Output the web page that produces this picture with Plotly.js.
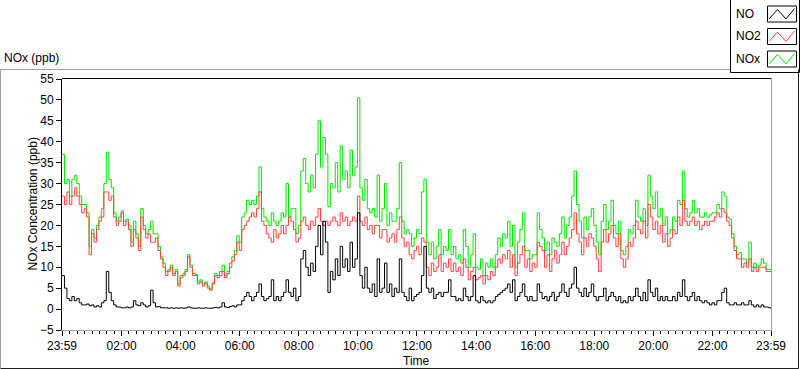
<!DOCTYPE html>
<html>
<head>
<meta charset="utf-8">
<script src="https://cdn.plot.ly/plotly-3.0.1.min.js"></script>
<style>
  html, body { margin: 0; padding: 0; background: #ffffff; }
  #chart { width: 800px; height: 369px; }
</style>
</head>
<body>
<div id="chart"></div>
<script>
// ---- Data (5-minute samples from 23:59 to 23:59) ----
const STEP_MIN = 5;

const seriesNames = ['NO', 'NO2', 'NOx'];

const NO = [
  8,5,2.5,2,3,2,2.5,1.5,1,1,1.2,0.8,1,0.5,0.8,0.5,1.5,2,9,4,2,1,0.5,0.5,
  0.3,0.3,0.5,0.3,0.5,2,1,0.8,1.5,1,0.5,0.8,4.5,1.5,0.5,0.6,0.3,0.3,0.3,0.2,0.3,0.2,0.3,0.2,
  0.3,0.2,0.3,0.5,0.3,0.2,0.2,0.3,0.2,0.2,0.3,0.2,0.2,0.3,0.4,0.3,0.5,1.5,0.5,0.4,0.6,0.8,0.5,1,
  1,2,3,4,3,2,3,4,6,3,2,2.5,3,7,2,3,2,3,4,7,4,3,5,2,
  3,12,14,10,8,11,9,15,20,13,21,16,4,9,7,12,8,15,10,12,9,16,10,12,
  23,8,5,10,5,4,6,3,12,4,5,11,4,6,3,5,4,12,4,3,2,5,2,3,
  3.5,4,8,15,5,4,5,2.5,3.5,4,3,4,4,7,3,3,2,2.5,2,5,3,2,3,8,
  2,1.5,3,2,1.5,2,1.5,2,3,3.5,4,4.5,5,6,4,7,2,3,4,6,3,2,3,2,
  2,6,4,2.5,3,2,3,4,2,3,4,6,4,3,5,6,10,5,4,3,5,3,4,6,
  3,2,3,3,5,2,3,4,3,2,3,1.5,2,1.5,3,2,3,5,3,2,4,2,7,4,
  3,5,2,3,2,3,2,2,3,2,4,3,7,3,2,3,4,2,3,2,1.5,2,1.5,1,
  1.5,1,2,2,4,5,1.5,1,1,1.5,1,1,1.5,1,1,2,1,0.5,1,0.5,1,0.5,0.5,0.3,0.2
];

const NO2 = [
  27,25,28,25,27,29,27,25,23,24,22,13,18,16,19,21,22,28,28,26,27,22,20,21,
  23,20,21,19,15,19,17,14,22,19,17,18,16,16,17,14,12,10,8,9,10,8,9,5.5,
  7.5,8,9,12.5,10,8,8,6,6.5,5.5,6.2,5,4.5,6,8,7.5,8,9,7.5,8.5,10,11.5,13,16,
  14,19,20,21,22,23,22,24,28,21,20,18,17,16,19,17,18,20,18,20,22,21,19,16,
  17,21,22,20,19,21,20,22,24,21,20,21,20,21,22,21,20,23,21,22,20,21,22,21,
  27,21,20,22,19,20,18,20,20,17,19,19,16,17,18,16,19,22,17,15,16,13,12,14,
  15,13,17,16,10,8,11,9,10,13,9,11,10,12,9,11,9,10,8,12,10,7,9,10,
  7,7.5,8,6,8,7,9,8,10,12,11,13,12,14,10,13,8,11,13,15,10,12,9,11,
  10,16,15,14,10,13,9,12,14,11,13,16,13,15,17,19,23,18,16,13,17,15,18,17,
  15,12,9,16,19,16,18,20,17,15,18,12,10,12,16,15,17,21,19,18,21,17,25,22,
  19,21,18,20,16,18,15,17,19,18,22,20,26,21,20,21,22,20,21,19,20,21,20,21,
  21,22,23,22,24,23,21,20,17,14,12,12,10,11,10,12,9,10,9,10,10,10,9,9,9
];

const NOx = [
  37,30,31,27,31,32,30,27,25,25,23,15,19,17,20,22,24,30,37.5,31,29,23,21,22,
  23.5,21,21.5,20,16,21,18,15,24,20,18,19,21,18,18,15,12.5,11,9,9.5,10.5,8.5,9.5,6,
  8,8.5,9.5,13,10.5,8.5,8.3,6.5,7,6,6.5,5.5,4.8,6.3,8.5,8,9,10.5,8,9,11,12.5,14,17.5,
  16,22,23,26,25,26,25,27,34,24,22,21,20,23,21,20,21,23,22,30,22,24,24,18,
  20,33,36,30,28,32,29,37,45,34,41,37,24.5,30,29,35,28,39,31,33,29,38,32,34,
  50.5,29,26,31,24,23,24,22,32,21,24,30,20,23,21,21,24,35,21,18,19,18,15,17,
  19,18,28,31,16,13,16,12,15,19,13,15,14,19,13,15,12,13,11,19,15,10,13,18,
  10,9.5,12,8,11,10,12,10,13,17,15,18,17,21,15,20,10,16,19,23,14,14,12,13,
  13,23,19,17,14,16,13,17,16,15,18,22,17,20,22,27,33,25,21,17,22,19,22,24,
  20,16,13,21,25,19,21,26,20,18,21,14,13,15,19,18,20,26,22,21,24,20,32,27,
  24,28,22,24,20,22,18,19,22,21,26,25,33,24,22,23,26,23,24,22,22,23,22,22.5,
  23,23,25,24,28,27,22,21.5,18,15,13,13.5,12,12,11,16,10,11,10,10.5,12,11,9.5,9.5,9.2
];

// x-axis tick positions (minutes after 23:59) and labels
const tickMinutes = [0,121,241,361,481,601,721,841,961,1081,1201,1321,1440];
const tickLabels  = ['23:59','02:00','04:00','06:00','08:00','10:00','12:00','14:00','16:00','18:00','20:00','22:00','23:59'];

const minutes = NO.map((_, i) => i * STEP_MIN);

// ---- Layout helpers (pixel -> paper) ----
const W = 800, H = 369;
const M = { l: 62, r: 29, t: 79, b: 39 };
const PW = W - M.l - M.r, PH = H - M.t - M.b;
const px = x => (x - M.l) / PW;
const py = y => (H - M.b - y) / PH;

const colors = { NO: '#000000', NO2: '#ff4040', NOx: '#00e600' };
const FONT = 'Liberation Sans, Arial, sans-serif';

const traces = [
  { x: minutes, y: NOx, name: seriesNames[2], type: 'scatter', mode: 'lines',
    line: { color: colors.NOx, width: 1, shape: 'hv' } },
  { x: minutes, y: NO2, name: seriesNames[1], type: 'scatter', mode: 'lines',
    line: { color: colors.NO2, width: 1, shape: 'hv' } },
  { x: minutes, y: NO, name: seriesNames[0], type: 'scatter', mode: 'lines',
    line: { color: colors.NO, width: 1, shape: 'hv' } }
];

function line(x0, y0, x1, y1, color) {
  return { type: 'line', xref: 'paper', yref: 'paper', x0: px(x0), y0: py(y0), x1: px(x1), y1: py(y1),
           line: { color: color, width: 1 }, layer: 'above' };
}

const shapes = [
  // outer frame
  line(0.5, 69.5, 730, 69.5, '#a0a0a0'),
  line(0.5, 69.5, 0.5, 368.5, '#a0a0a0'),
  line(0.5, 368.5, 798.5, 368.5, '#202020'),
  line(798.5, 69.5, 798.5, 368.5, '#202020'),
  // plot frame (top black, right gray)
  line(62, 78.5, 771.5, 78.5, '#000000'),
  line(771.5, 78.5, 771.5, 331, '#a0a0a0'),
  // legend box
  line(730.5, 0, 730.5, 72.5, '#000000'),
  line(730.5, 72.5, 799.5, 72.5, '#000000'),
  line(799.5, 0, 799.5, 72.5, '#000000')
];
const legendRows = [
  { name: seriesNames[0], color: colors.NO,  top: 6 },
  { name: seriesNames[1], color: colors.NO2, top: 28.5 },
  { name: seriesNames[2], color: colors.NOx, top: 51 }
];
const annotations = [];
legendRows.forEach(r => {
  const t = r.top, b = r.top + 16;
  shapes.push({ type: 'rect', xref: 'paper', yref: 'paper',
    x0: px(767.5), x1: px(796.5), y0: py(t), y1: py(b),
    line: { color: '#000000', width: 1 }, fillcolor: '#ffffff', layer: 'above' });
  const pts = [[769, b - 3], [777.5, t + 3.5], [786, b - 3], [794.5, t + 2.5]];
  shapes.push({ type: 'path', xref: 'paper', yref: 'paper',
    path: 'M' + pts.map(p => px(p[0]) + ',' + py(p[1])).join(' L'),
    line: { color: r.color, width: 1 }, layer: 'above' });
  annotations.push({ xref: 'paper', yref: 'paper', x: px(734), y: py(t + 8), xanchor: 'left', yanchor: 'middle',
    text: r.name, showarrow: false, font: { family: FONT, size: 12, color: '#000' } });
});
annotations.push({ xref: 'paper', yref: 'paper', x: px(32), y: py(204.5), xanchor: 'center', yanchor: 'middle',
  text: 'NOx Concentration (ppb)', textangle: -90, showarrow: false, font: { family: FONT, size: 12, color: '#000' } });
annotations.push({ xref: 'paper', yref: 'paper', x: px(416.5), y: py(361), xanchor: 'center', yanchor: 'middle',
  text: 'Time', showarrow: false, font: { family: FONT, size: 12, color: '#000' } });

const layout = {
  width: W, height: H,
  margin: M,
  paper_bgcolor: '#ffffff', plot_bgcolor: '#ffffff',
  showlegend: false,
  font: { family: FONT, size: 12, color: '#000' },
  title: { text: 'NOx (ppb)', xref: 'container', yref: 'container', x: 4 / W, xanchor: 'left',
           y: 1 - 58 / H, yanchor: 'middle', font: { family: FONT, size: 12, color: '#000' } },
  xaxis: {
    range: [0, 1440], tickmode: 'array', tickvals: tickMinutes, ticktext: tickLabels,
    showgrid: false, zeroline: false, showline: true, linecolor: '#a0a0a0', linewidth: 1,
    ticks: 'outside', ticklen: 5, tickcolor: '#000', tickwidth: 1,
    minor: { tick0: 1, dtick: 15, ticks: 'outside', ticklen: 3, tickcolor: '#000', showgrid: false },
    tickfont: { family: FONT, size: 12, color: '#000' }, fixedrange: true
  },
  yaxis: {
    range: [-5, 55], tick0: 0, dtick: 5,
    showgrid: false, zeroline: false, showline: true, linecolor: '#000', linewidth: 1,
    ticks: 'outside', ticklen: 5, tickcolor: '#000', tickwidth: 1,
    tickfont: { family: FONT, size: 12, color: '#000' }, fixedrange: true
  },
  shapes: shapes,
  annotations: annotations
};

Plotly.newPlot('chart', traces, layout, { staticPlot: true, displayModeBar: false });
</script>
</body>
</html>
